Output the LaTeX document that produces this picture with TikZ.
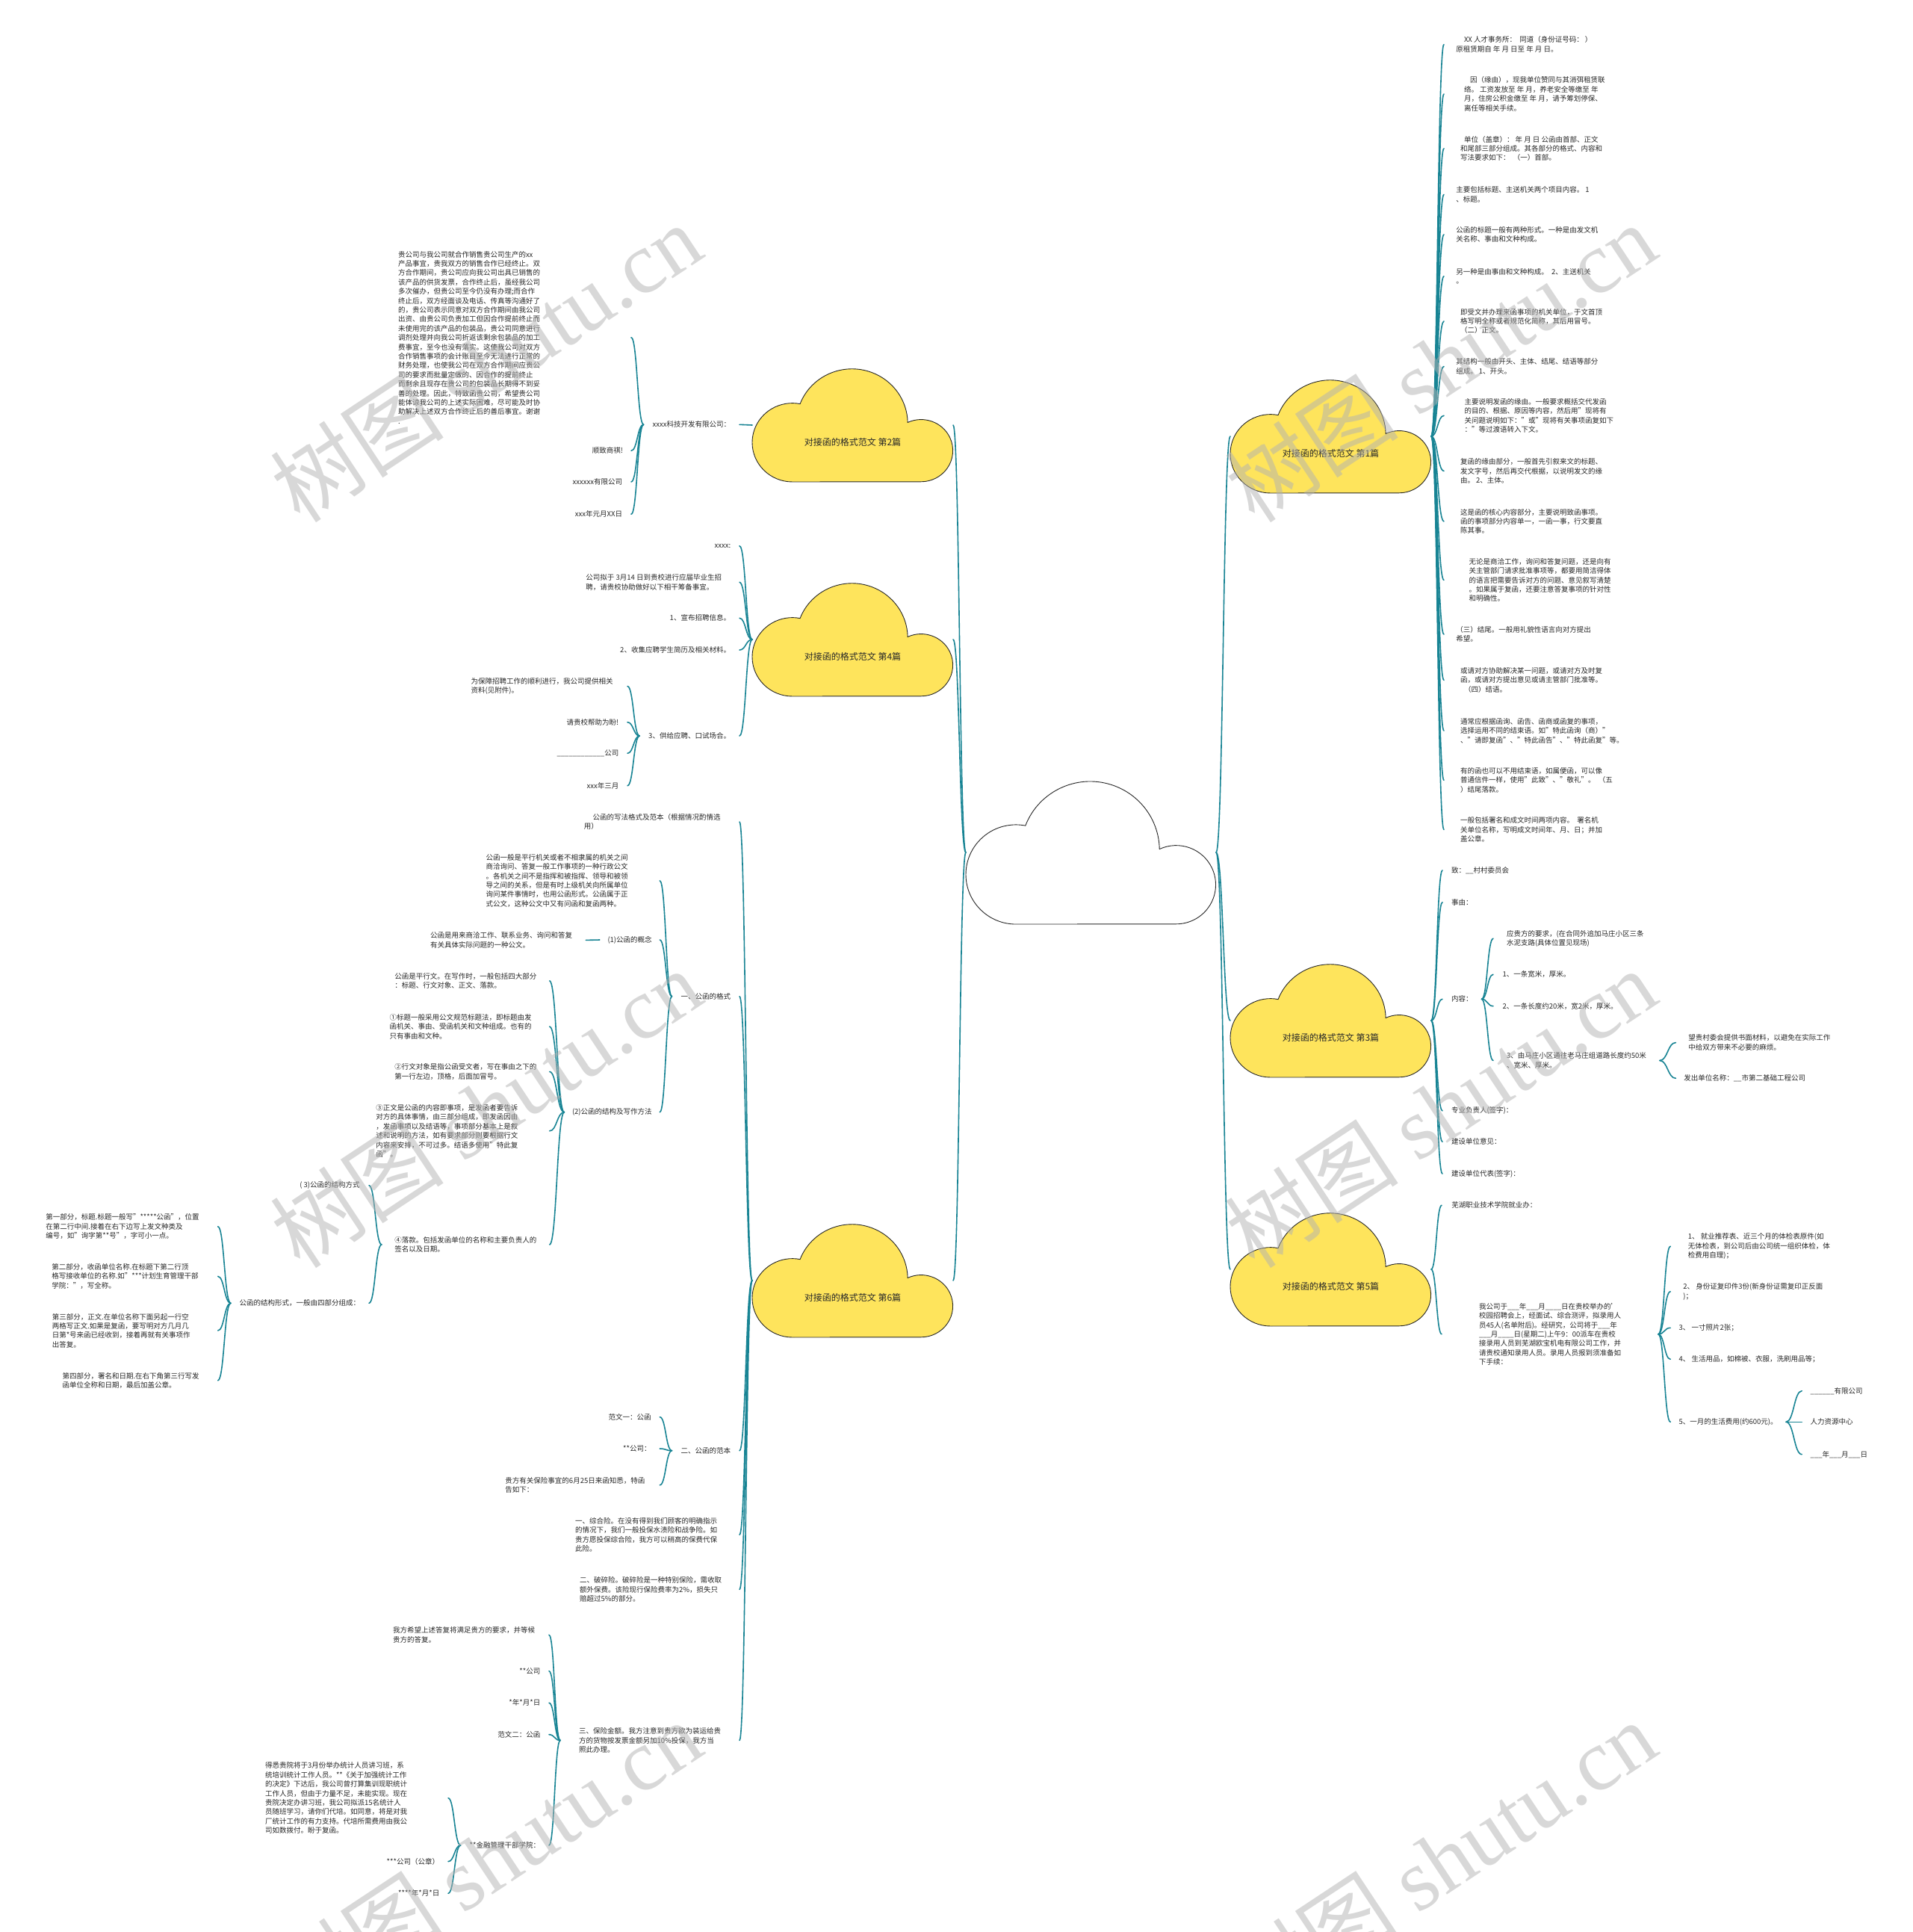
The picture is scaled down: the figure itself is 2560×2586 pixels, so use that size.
\documentclass[tikz,border=0pt]{standalone}
\usepackage{fontspec}
\setmainfont{Noto Sans CJK SC}
\newfontfamily\wmserif{Liberation Serif}
\usetikzlibrary{calc}
\definecolor{teal1}{RGB}{24,132,148}
\definecolor{cyel}{RGB}{254,228,92}
\definecolor{txt}{RGB}{40,40,40}
\tikzset{
  tx/.style={font=\fontsize{9.5pt}{12.4pt}\selectfont, align=left, inner ysep=0pt, outer sep=0pt, text=txt},
  txr/.style={tx, anchor=west, inner xsep=#1}, txr/.default=12pt,
  txl/.style={tx, anchor=east, inner xsep=#1}, txl/.default=12pt,
  cbox/.style={minimum width=269pt, minimum height=152pt, inner sep=0pt, outer sep=0pt},
  clabel/.style={font=\fontsize{12pt}{14pt}\selectfont, text=txt, inner sep=0pt},
  cloudline/.style={draw=black!85, line width=0.9pt},
  link/.style={draw=teal1, line width=1.6pt, line cap=round},
  wm/.style={font=\fontsize{117pt}{117pt}\selectfont, text=black!30, opacity=0.5, rotate=33.5, inner sep=0pt}
}
\newcommand\lnk[2]{\draw[link] let \p1=(#1), \p2=(#2) in (\p1) .. controls ({0.5*\x1+0.5*\x2},\y1) and ({0.5*\x1+0.5*\x2},\y2) .. (\p2);}
\newcommand\cloudshape[4]{%
  \begin{scope}[shift={(#1.north west)},x=#2pt,y=-#3pt]
    \draw[cloudline,fill=#4] (200,577) arc[start angle=90,end angle=281,radius=200]
      arc[start angle=201,end angle=359,radius=277]
      arc[start angle=245,end angle=450,radius=158] -- cycle;
  \end{scope}}
\begin{document}
\begin{tikzpicture}[x=1pt,y=-1pt]
\useasboundingbox (0,0) rectangle (2560,2586);
\fill[white] (0,0) rectangle (2560,2586);
% cloud boxes
\node[cbox, minimum width=335pt, minimum height=192pt] (c0) at (1460.5,1141) {};
\node[cbox] (c1) at (1781.5,584) {};
\node[cbox] (c3) at (1781.5,1366) {};
\node[cbox] (c5) at (1781.5,1699) {};
\node[cbox] (c2) at (1141.5,569) {};
\node[cbox] (c4) at (1141.5,856) {};
\node[cbox] (c6) at (1141.5,1714) {};

% ---------- right: cloud 1 ----------
\node[txr=16.3pt] (a1) at (1933,59.5) {\hspace*{10.7pt}XX 人才事务所：\ \ 同道（身份证号码：\ ）\\原租赁期自 年 月 日至 年 月 日。};
\node[txr=27pt] (a2) at (1933,125.9) {\hspace*{8pt}因（缘由），现我单位赞同与其消弭租赁联\\络。 工资发放至 年 月，养老安全等缴至 年\\月，住房公积金缴至 年 月，请予筹划停保、\\离任等相关手续。};
\node[txr=22pt] (a3) at (1933,198.8) {\hspace*{5pt}单位（盖章）： 年 月 日 公函由首部、正文\\和尾部三部分组成。其各部分的格式、内容和\\写法要求如下：\ \ （一）首部。};
\node[txr=16.3pt] (a4) at (1933,260.4) {主要包括标题、主送机关两个项目内容。 1\\、标题。};
\node[txr=16.3pt] (a5) at (1933,314) {公函的标题一般有两种形式。一种是由发文机\\关名称、事由和文种构成。};
\node[txr=16.3pt] (a6) at (1933,369.8) {另一种是由事由和文种构成。\ \ 2、主送机关\\。};
\node[txr=22pt] (a7) at (1933,430) {即受文并办理来函事项的机关单位，于文首顶\\格写明全称或者规范化简称，其后用冒号。\\（二）正文。};
\node[txr=16.3pt] (a8) at (1933,490.5) {其结构一般由开头、主体、结尾、结语等部分\\组成。 1、开头。};
\node[txr=27.7pt] (a9) at (1933,556.3) {主要说明发函的缘由。一般要求概括交代发函\\的目的、根据、原因等内容，然后用"现将有\\关问题说明如下："或"现将有关事项函复如下\\："等过渡语转入下文。};
\node[txr=22pt] (a10) at (1933,630.4) {复函的缘由部分，一般首先引叙来文的标题、\\发文字号，然后再交代根据，以说明发文的缘\\由。 2、主体。};
\node[txr=22pt] (a11) at (1933,697.9) {这是函的核心内容部分，主要说明致函事项。\\函的事项部分内容单一，一函一事，行文要直\\陈其事。};
\node[txr=33.7pt] (a12) at (1933,776.4) {无论是商洽工作，询问和答复问题，还是向有\\关主管部门请求批准事项等，都要用简洁得体\\的语言把需要告诉对方的问题、意见叙写清楚\\。如果属于复函，还要注意答复事项的针对性\\和明确性。};
\node[txr=16.3pt] (a13) at (1933,849.1) {（三）结尾。一般用礼貌性语言向对方提出\\希望。};
\node[txr=22pt] (a14) at (1933,910.4) {或请对方协助解决某一问题，或请对方及时复\\函，或请对方提出意见或请主管部门批准等。\\\hspace*{5pt}（四）结语。};
\node[txr=22pt] (a15) at (1933,978) {通常应根据函询、函告、函商或函复的事项，\\选择运用不同的结束语。如"特此函询（商）"\\、"请即复函"、"特此函告"、"特此函复"等。};
\node[txr=22pt] (a16) at (1933,1044.3) {有的函也可以不用结束语，如属便函，可以像\\普通信件一样，使用"此致"、"敬礼"。\ \ （五\\）结尾落款。};
\node[txr=22pt] (a17) at (1933,1110.4) {一般包括署名和成文时间两项内容。\ \ 署名机\\关单位名称，写明成文时间年、月、日；并加\\盖公章。};

% ---------- right: cloud 3 ----------
\node[txr] (b1) at (1931,1165) {致：\_\_村村委员会};
\node[txr] (b2) at (1931,1207.7) {事由：};
\node[txr] (b3) at (1931,1337.3) {内容：};
\node[txr] (b4) at (1931,1486.7) {专业负责人(签字)：};
\node[txr] (b5) at (1931,1528.3) {建设单位意见：};
\node[txr] (b6) at (1931,1571) {建设单位代表(签字)：};
\node[txr=18pt] (b31) at (1999,1256.2) {应贵方的要求，(在合同外追加马庄小区三条\\水泥支路(具体位置见现场)};
\node[txr=12.6pt] (b32) at (1999,1304.3) {1、一条宽米，厚米。};
\node[txr=12.6pt] (b33) at (1999,1346.7) {2、一条长度约20米，宽2米，厚米。};
\node[txr=18pt] (b34) at (1999,1419.5) {3、由马庄小区通往老马庄组道路长度约50米\\、宽米、厚米。};
\node[txr=17pt] (b341) at (2243.4,1395.5) {望贵村委会提供书面材料，以避免在实际工作\\中给双方带来不必要的麻烦。};
\node[txr=11pt] (b342) at (2243.4,1443.3) {发出单位名称：\_\_市第二基础工程公司};

% ---------- right: cloud 5 ----------
\node[txr=13.4pt] (e1) at (1930,1613.3) {芜湖职业技术学院就业办：};
\node[txr=50pt] (e2) at (1930,1785.8) {我公司于\_\_\_年\_\_\_月\_\_\_\_日在贵校举办的'\\校园招聘会上，经面试、综合测评，拟录用人\\员45人(名单附后)。经研究，公司将于\_\_\_年\\\_\_\_月\_\_\_\_日(星期二)上午9：00派车在贵校\\接录用人员到芜湖欧宝机电有限公司工作，并\\请贵校通知录用人员。录用人员报到须准备如\\下手续：};
\node[txr=23.7pt] (e21) at (2236.2,1668.2) {1、 就业推荐表、近三个月的体检表原件(如\\无体检表，到公司后由公司统一组织体检，体\\检费用自理)；};
\node[txr=17.2pt] (e22) at (2236.2,1728.8) {2、 身份证复印件3份(新身份证需复印正反面\\)；};
\node[txr=11.4pt] (e23) at (2236.2,1777.3) {3、 一寸照片2张；};
\node[txr=11.4pt] (e24) at (2236.2,1819.3) {4、 生活用品，如棉被、衣服，洗刷用品等；};
\node[txr=11.4pt] (e25) at (2236.2,1903.3) {5、一月的生活费用(约600元)。};
\node[txr=11.5pt] (e251) at (2412.2,1861.7) {\_\_\_\_\_\_有限公司};
\node[txr=11.5pt] (e252) at (2412.2,1903.3) {人力资源中心};
\node[txr=11.5pt] (e253) at (2412.2,1946.7) {\_\_\_年\_\_\_月\_\_\_日};

% ---------- left: cloud 2 ----------
\node[txl] (f1) at (990,568.3) {xxxx科技开发有限公司：};
\node[txl=122pt] (f11) at (845,451.7) {贵公司与我公司就合作销售贵公司生产的xx\\产品事宜，贵我双方的销售合作已经终止。双\\方合作期间，贵公司应向我公司出具已销售的\\该产品的供货发票，合作终止后，虽经我公司\\多次催办，但贵公司至今仍没有办理;而合作\\终止后，双方经面谈及电话、传真等沟通好了\\的，贵公司表示同意对双方合作期间由我公司\\出资、由贵公司负责加工但因合作提前终止而\\未使用完的该产品的包装品，贵公司同意进行\\调剂处理并向我公司折返该剩余包装品的加工\\费事宜，至今也没有落实。这使我公司对双方\\合作销售事项的会计账目至今无法进行正常的\\财务处理，也使我公司在双方合作期间应贵公\\司的要求而批量定做的、因合作的提前终止\\而剩余且现存在贵公司的包装品长期得不到妥\\善的处理。因此，特致函贵公司，希望贵公司\\能体谅我公司的上述实际困难，尽可能及时协\\助解决上述双方合作终止后的善后事宜。谢谢\\.};
\node[txl=11pt] (f12) at (845,603.3) {顺致商祺!};
\node[txl] (f13) at (845,645) {xxxxxx有限公司};
\node[txl] (f14) at (845,688.3) {xxx年元月XX日};

% ---------- left: cloud 4 ----------
\node[txl=11.7pt] (g1) at (990,730.7) {xxxx:};
\node[txl=24pt] (g2) at (990,779.3) {公司拟于 3月14 日到贵校进行应届毕业生招\\聘，请贵校协助做好以下相干筹备事宜。};
\node[txl] (g3) at (990,827.3) {1、宣布招聘信息。};
\node[txl] (g4) at (990,870) {2、收集应聘学生简历及相关材料。};
\node[txl] (g5) at (990,985) {3、供给应聘、口试场合。};
\node[txl=19.3pt] (g51) at (840,918.5) {为保障招聘工作的顺利进行，我公司提供相关\\资料(见附件)。};
\node[txl=11.7pt] (g52) at (840,966.7) {请贵校帮助为盼!};
\node[txl=11.7pt] (g53) at (840,1008.3) {\_\_\_\_\_\_\_\_\_\_\_\_公司};
\node[txl=11.7pt] (g54) at (840,1051.7) {xxx年三月};

% ---------- left: cloud 6 ----------
\node[txl=25.5pt] (h1) at (990,1100) {\hspace*{11.6pt}公函的写法格式及范本（根据情况酌情选\\用）};
\node[txl] (h2) at (990,1333.7) {一、公函的格式};
\node[txl=42.6pt] (h21) at (883.3,1178.8) {公函一般是平行机关或者不相隶属的机关之间\\商洽询问、答复一般工作事项的一种行政公文\\。各机关之间不是指挥和被指挥、领导和被领\\导之间的关系，但是有时上级机关向所属单位\\询问某件事情时，也用公函形式。公函属于正\\式公文，这种公文中又有问函和复函两种。};
\node[txl=10.6pt] (h22) at (883.3,1258) {(1)公函的概念};
\node[txl=18.3pt] (h221) at (784.3,1258.4) {公函是用来商洽工作、联系业务、询问和答复\\有关具体实际问题的一种公文。};
\node[txl=10.6pt] (h23) at (883.3,1488.7) {(2)公函的结构及写作方法};
\node[txl=17.4pt] (h231) at (735.7,1312.9) {公函是平行文。在写作时，一般包括四大部分\\：标题、行文对象、正文、落款。};
\node[txl=24pt] (h232) at (735.7,1374) {①标题一般采用公文规范标题法，即标题由发\\函机关、事由、受函机关和文种组成。也有的\\只有事由和文种。};
\node[txl=17.4pt] (h233) at (735.7,1434.4) {②行文对象是指公函受文者，写在事由之下的\\第一行左边，顶格，后面加冒号。};
\node[txl=42.4pt] (h234) at (735.7,1513.8) {③正文是公函的内容即事项，是发函者要告诉\\对方的具体事情，由三部分组成，即发函因由\\，发函事项以及结语等，事项部分基本上是叙\\述和说明的方法，如有要求部分则要根据行文\\内容来安排，不可过多。结语多使用"特此复\\函"。};
\node[txl=17.4pt] (h235) at (735.7,1665.9) {④落款。包括发函单位的名称和主要负责人的\\签名以及日期。};
\node[txl=12.3pt] (h2351) at (494,1586.7) {( 3)公函的结构方式};
\node[txl=11.8pt] (h2352) at (494,1744.3) {公函的结构形式，一般由四部分组成：};
\node[txl=25pt] (h23521) at (291.7,1641.7) {第一部分，标题.标题一般写"*****公函"，位置\\在第二行中间.接着在右下边写上发文种类及\\编号，如"询字第**号"，字可小一点。};
\node[txl=26pt] (h23522) at (291.7,1708.4) {第二部分，收函单位名称.在标题下第二行顶\\格写接收单位的名称.如"***计划生育管理干部\\学院："，写全称。};
\node[txl=37pt] (h23523) at (291.7,1781) {第三部分，正文.在单位名称下面另起一行空\\两格写正文.如果是复函，要写明对方几月几\\日第*号来函已经收到，接着再就有关事项作\\出答复。};
\node[txl=25pt] (h23524) at (291.7,1847.8) {第四部分，署名和日期.在右下角第三行写发\\函单位全称和日期，最后加盖公章。};
\node[txl] (h3) at (990,1941.7) {二、公函的范本};
\node[txl=11.6pt] (h31) at (883.3,1896.7) {范文一：公函};
\node[txl=11.8pt] (h32) at (883.3,1939) {**公司：};
\node[txl=20pt] (h33) at (883.3,1987.8) {贵方有关保险事宜的6月25日来函知悉，特函\\告如下：};
\node[txl=30pt] (h4) at (990,2054.3) {一、综合险。在没有得到我们顾客的明确指示\\的情况下，我们一般投保水渍险和战争险。如\\贵方愿投保综合险，我方可以稍高的保费代保\\此险。};
\node[txl=24pt] (h5) at (990,2127.5) {二、破碎险。破碎险是一种特别保险，需收取\\额外保费。该险现行保险费率为2\%，损失只\\赔超过5\%的部分。};
\node[txl=25pt] (h6) at (990,2329.5) {三、保险金额。我方注意到贵方欲为装运给贵\\方的货物按发票金额另加10\%投保，我方当\\照此办理。};
\node[txl=19pt] (h61) at (735,2188.3) {我方希望上述答复将满足贵方的要求，并等候\\贵方的答复。};
\node[txl=11.7pt] (h62) at (735,2236.7) {**公司};
\node[txl=11.7pt] (h63) at (735,2279.3) {*年*月*日};
\node[txl=11.7pt] (h64) at (735,2321.7) {范文二：公函};
\node[txl] (h65) at (735,2470) {**金融管理干部学院：};
\node[txl=55pt] (h651) at (600,2406.7) {得悉贵院将于3月份举办统计人员讲习班，系\\统培训统计工作人员。**《关于加强统计工作\\的决定》下达后，我公司曾打算集训现职统计\\工作人员，但由于力量不足，未能实现。现在\\贵院决定办讲习班，我公司拟派15名统计人\\员随班学习，请你们代培。如同意，将是对我\\厂统计工作的有力支持。代培所需费用由我公\\司如数拨付。盼于复函。};
\node[txl] (h652) at (600,2491.7) {***公司（公章）};
\node[txl=11.7pt] (h653) at (600,2534.3) {****年*月*日};

% ---------- connectors ----------
\lnk{c0.west}{c2.east} \lnk{c0.west}{c4.east} \lnk{c0.west}{c6.east}
\lnk{c0.east}{c1.west} \lnk{c0.east}{c3.west} \lnk{c0.east}{c5.west}
\foreach \nm in {a1,a2,a3,a4,a5,a6,a7,a8,a9,a10,a11,a12,a13,a14,a15,a16,a17} {\lnk{c1.east}{\nm.west}}
\foreach \nm in {b1,b2,b3,b4,b5,b6} {\lnk{c3.east}{\nm.west}}
\foreach \nm in {b31,b32,b33,b34} {\lnk{b3.east}{\nm.west}}
\foreach \nm in {b341,b342} {\lnk{b34.east}{\nm.west}}
\foreach \nm in {e1,e2} {\lnk{c5.east}{\nm.west}}
\foreach \nm in {e21,e22,e23,e24,e25} {\lnk{e2.east}{\nm.west}}
\foreach \nm in {e251,e252,e253} {\lnk{e25.east}{\nm.west}}
\lnk{c2.west}{f1.east}
\foreach \nm in {f11,f12,f13,f14} {\lnk{f1.west}{\nm.east}}
\foreach \nm in {g1,g2,g3,g4,g5} {\lnk{c4.west}{\nm.east}}
\foreach \nm in {g51,g52,g53,g54} {\lnk{g5.west}{\nm.east}}
\foreach \nm in {h1,h2,h3,h4,h5,h6} {\lnk{c6.west}{\nm.east}}
\foreach \nm in {h21,h22,h23} {\lnk{h2.west}{\nm.east}}
\lnk{h22.west}{h221.east}
\foreach \nm in {h231,h232,h233,h234,h235} {\lnk{h23.west}{\nm.east}}
\foreach \nm in {h2351,h2352} {\lnk{h235.west}{\nm.east}}
\foreach \nm in {h23521,h23522,h23523,h23524} {\lnk{h2352.west}{\nm.east}}
\foreach \nm in {h31,h32,h33} {\lnk{h3.west}{\nm.east}}
\foreach \nm in {h61,h62,h63,h64,h65} {\lnk{h6.west}{\nm.east}}
\foreach \nm in {h651,h652,h653} {\lnk{h65.west}{\nm.east}}

% ---------- clouds ----------
\cloudshape{c0}{0.335}{0.3328}{white}
\cloudshape{c1}{0.269}{0.2634}{cyel}
\cloudshape{c2}{0.269}{0.2634}{cyel}
\cloudshape{c3}{0.269}{0.2634}{cyel}
\cloudshape{c4}{0.269}{0.2634}{cyel}
\cloudshape{c5}{0.269}{0.2634}{cyel}
\cloudshape{c6}{0.269}{0.2634}{cyel}
\node[clabel] (c1l) at ([yshift=-23pt]c1.center) {对接函的格式范文 第1篇};
\node[clabel] (c2l) at ([yshift=-23pt]c2.center) {对接函的格式范文 第2篇};
\node[clabel] (c3l) at ([yshift=-23pt]c3.center) {对接函的格式范文 第3篇};
\node[clabel] (c4l) at ([yshift=-23pt]c4.center) {对接函的格式范文 第4篇};
\node[clabel] (c5l) at ([yshift=-23pt]c5.center) {对接函的格式范文 第5篇};
\node[clabel] (c6l) at ([yshift=-23pt]c6.center) {对接函的格式范文 第6篇};

% ---------- watermarks ----------
\node[wm] (w1) at (650,485) {树图 {\wmserif shutu.cn}};
\node[wm] (w2) at (1928,485) {树图 {\wmserif shutu.cn}};
\node[wm] (w3) at (650,1483) {树图 {\wmserif shutu.cn}};
\node[wm] (w4) at (1928,1483) {树图 {\wmserif shutu.cn}};
\node[wm] (w5) at (650,2489) {树图 {\wmserif shutu.cn}};
\node[wm] (w6) at (1928,2489) {树图 {\wmserif shutu.cn}};
\end{tikzpicture}
\end{document}
